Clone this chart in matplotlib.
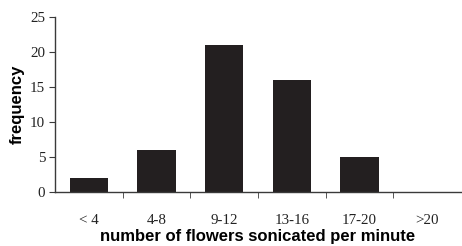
import matplotlib.pyplot as plt
from matplotlib.ticker import FixedLocator

categories = ["< 4", "4-8", "9-12", "13-16", "17-20", ">20"]
frequency = [2, 6, 21, 16, 5, 0]
y_ticks = [0, 5, 10, 15, 20, 25]

axis_color = "#3a3a3a"
bar_color = "#231f20"

fig = plt.figure(figsize=(4.62, 2.46), dpi=100)
ax = fig.add_axes([0.119, 0.218, 0.879, 0.713])

pos = list(range(len(categories)))
ax.bar(pos, frequency, width=0.57, color=bar_color)

ax.set_xlim(-0.5, len(categories) - 0.5)
ax.set_ylim(0, 25)
ax.set_yticks(y_ticks)
ax.set_xticks(pos)
ax.set_xticklabels(categories)
ax.xaxis.set_minor_locator(FixedLocator([p + 0.5 for p in pos[:-1]]))

for s in ["top", "right"]:
    ax.spines[s].set_visible(False)
for s in ["left", "bottom"]:
    ax.spines[s].set_color(axis_color)
    ax.spines[s].set_linewidth(1.0)

serif = ["Liberation Serif", "DejaVu Serif"]
ax.tick_params(axis="x", which="major", length=0, pad=15.5, labelsize=10.8)
ax.tick_params(axis="x", which="minor", length=4, direction="out", color=axis_color)
ax.tick_params(axis="y", length=4, direction="out", color=axis_color, pad=3, labelsize=10.8)
for lab in ax.get_xticklabels() + ax.get_yticklabels():
    lab.set_fontfamily(serif)
    lab.set_color("#222222")

ax.set_xlabel("number of flowers sonicated per minute", fontfamily="Liberation Sans",
              fontweight="bold", fontsize=12, labelpad=1.5)
ax.set_ylabel("frequency", fontfamily="Liberation Sans", fontweight="bold",
              fontsize=12, labelpad=4)

fig.savefig("out.png", dpi=100)
